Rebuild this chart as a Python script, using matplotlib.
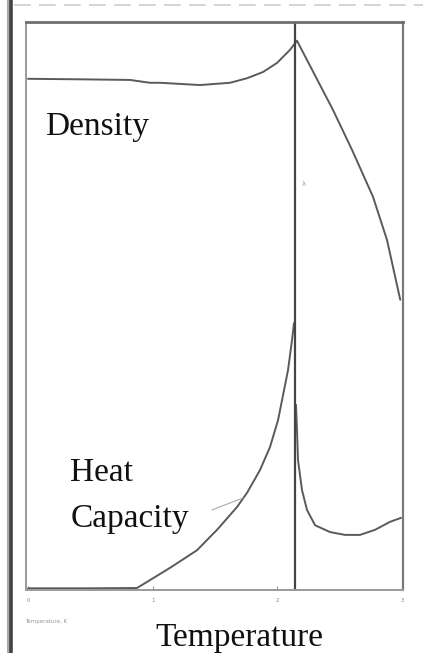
import matplotlib
matplotlib.use("Agg")
import matplotlib.pyplot as plt
from matplotlib.lines import Line2D

# ---- data (T in K, y in arbitrary units 0..100) ----
density_T = [0.0, 0.45, 0.818, 0.978, 1.059, 1.379, 1.620, 1.756, 1.885, 1.997,
             2.101, 2.157, 2.446, 2.598, 2.767, 2.879, 2.985]
density_v = [90.0, 89.9, 89.8, 89.3, 89.3, 88.9, 89.3, 90.1, 91.2, 92.8,
             95.1, 96.7, 84.5, 77.5, 69.2, 61.6, 51.1]

heat_low_T = [0.0, 0.50, 0.874, 1.139, 1.355, 1.516, 1.676, 1.756, 1.860, 1.941,
              2.005, 2.085, 2.117, 2.133]
heat_low_v = [0.3, 0.3, 0.35, 3.9, 7.0, 10.6, 14.6, 17.1, 21.1, 25.2,
              29.9, 38.7, 44.0, 47.0]

heat_high_T = [2.149, 2.157, 2.165, 2.197, 2.237, 2.302, 2.422, 2.542, 2.662, 2.783, 2.903, 2.991]
heat_high_v = [32.6, 28.2, 22.9, 17.6, 14.1, 11.4, 10.2, 9.7, 9.7, 10.6, 12.0, 12.7]

lambda_T = 2.145
x_ticks = [0, 1, 2, 3]
x_tick_labels = ["0", "1", "2", "3"]

W, H = 423, 653
fig = plt.figure(figsize=(W / 100, H / 100), dpi=100)
fig.patch.set_facecolor("white")

def fx(px):
    return px / W

def fy(py):
    return 1 - py / H

ax = fig.add_axes([fx(26), fy(590), fx(403) - fx(26), fy(22) - fy(590)])
ax.set_xlim(-0.016, 3.007)
ax.set_ylim(0, 100)

curve_kw = dict(color="#5a5a5a", lw=1.4, solid_capstyle="round", solid_joinstyle="round")
ax.plot(density_T, density_v, **curve_kw)
ax.plot(heat_low_T, heat_low_v, **curve_kw)
ax.plot(heat_high_T, heat_high_v, **curve_kw)
ax.axvline(lambda_T, color="#444444", lw=1.6)

# frame
for side, col, lw in [("top", "#6e6e6e", 2.0), ("right", "#7a7a7a", 1.6),
                      ("left", "#9a9a9a", 1.4), ("bottom", "#9a9a9a", 1.4)]:
    ax.spines[side].set_color(col)
    ax.spines[side].set_linewidth(lw)

ax.set_xticks(x_ticks)
ax.set_xticklabels(x_tick_labels, fontsize=4, color="#888888")
ax.tick_params(axis="x", length=3, width=0.8, color="#999999", pad=6, direction="in")
ax.set_yticks([])

# small lambda mark
ax.text(2.21, 71.5, "λ", fontsize=5, color="#999999", ha="center", va="center")

# annotation line from "Capacity" to curve
ax.plot([1.475, 1.724], [14.1, 16.2], color="#aaaaaa", lw=0.8)

serif = ["Liberation Serif", "DejaVu Serif"]
ax.text(0.14, 81.6, "Density", fontsize=24, family=serif, color="#111111",
        ha="left", va="center")
ax.text(0.34, 20.6, "Heat", fontsize=24, family=serif, color="#111111",
        ha="left", va="center")
ax.text(0.34, 12.6, "Capacity", fontsize=24, family=serif, color="#111111",
        ha="left", va="center")

fig.text(fx(25), fy(622), "Temperature, K", fontsize=4, color="#999999",
         ha="left", va="center")
fig.text(fx(239), fy(638), "Temperature", fontsize=24, family=serif,
         color="#111111", ha="center", va="center")

# outer page decorations
fig.add_artist(Line2D([fx(7.5), fx(7.5)], [0, 1], color="#aaaaaa", lw=2.2,
                      transform=fig.transFigure))
fig.add_artist(Line2D([fx(11), fx(11)], [0, 1], color="#444444", lw=2.6,
                      transform=fig.transFigure))
fig.add_artist(Line2D([fx(14), 1], [fy(5), fy(5)], color="#cccccc", lw=1.2,
                      ls=(0, (10, 5)), transform=fig.transFigure))

fig.savefig("out.png", dpi=100)
